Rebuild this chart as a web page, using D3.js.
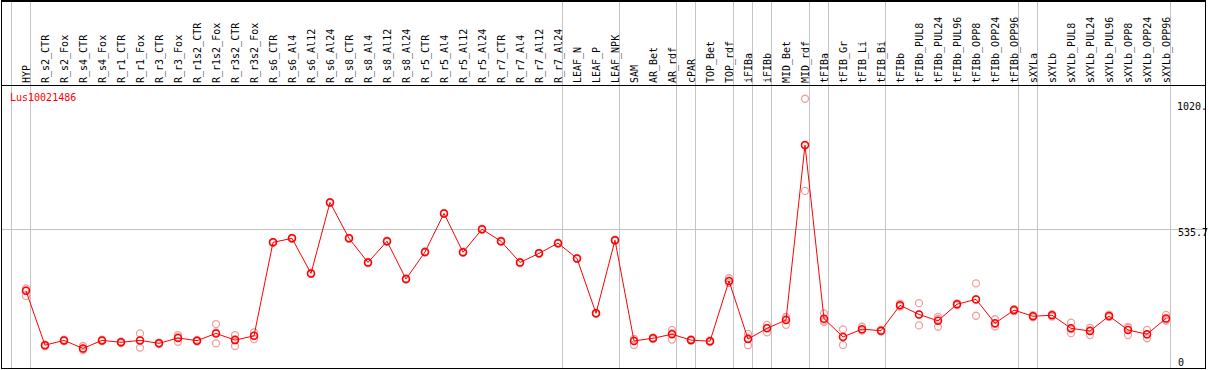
<!DOCTYPE html>
<html>
<head>
<meta charset="utf-8">
<script src="https://cdn.jsdelivr.net/npm/d3@7"></script>
<style>
  html, body { margin: 0; padding: 0; background: #fff; }
  svg { display: block; }
  text { font-family: "DejaVu Sans Mono", monospace; font-size: 10px; }
</style>
</head>
<body>
<div class="chart"></div>
<script>
// sample names, left to right
const categories = [
  'HYP', 'R_s2_CTR', 'R_s2_Fox', 'R_s4_CTR', 'R_s4_Fox', 'R_r1_CTR', 'R_r1_Fox',
  'R_r3_CTR', 'R_r3_Fox', 'R_r1s2_CTR', 'R_r1s2_Fox', 'R_r3s2_CTR', 'R_r3s2_Fox',
  'R_s6_CTR', 'R_s6_Al4', 'R_s6_Al12', 'R_s6_Al24', 'R_s8_CTR', 'R_s8_Al4',
  'R_s8_Al12', 'R_s8_Al24', 'R_r5_CTR', 'R_r5_Al4', 'R_r5_Al12', 'R_r5_Al24',
  'R_r7_CTR', 'R_r7_Al4', 'R_r7_Al12', 'R_r7_Al24', 'LEAF_N', 'LEAF_P', 'LEAF_NPK',
  'SAM', 'AR_Bet', 'AR_rdf', 'cPAR', 'TOP_Bet', 'TOP_rdf', 'iFIBa', 'iFIBb',
  'MID_Bet', 'MID_rdf', 'tFIBa', 'tFIB_Gr', 'tFIB_Li', 'tFIB_Bi', 'tFIBb',
  'tFIBb_PUL8', 'tFIBb_PUL24', 'tFIBb_PUL96', 'tFIBb_OPP8', 'tFIBb_OPP24', 'tFIBb_OPP96',
  'sXYLa', 'sXYLb', 'sXYLb_PUL8', 'sXYLb_PUL24', 'sXYLb_PUL96', 'sXYLb_OPP8',
  'sXYLb_OPP24', 'sXYLb_OPP96'
]

// mean expression per sample
const means = [
  303, 100, 118, 88, 118, 111, 118,
  107, 127, 117, 144, 119, 135,
  484, 499, 368, 633, 499, 409,
  488, 347, 448, 592, 447, 533,
  488, 409, 443, 481, 424, 219, 492,
  116, 126, 141, 119, 115, 340, 123, 163,
  194, 847, 199, 131, 160, 154, 249,
  215, 191, 253, 271, 182, 231,
  208, 212, 163, 153, 209, 157,
  141, 200
]

// replicate values per sample
const replicates = [
  [312, 284, 305], [102, 96, 100], [121, 115, 118], [97, 82, 87], [121, 115, 118], [114, 108, 111], [144, 91, 119],
  [110, 104, 107], [138, 113, 130], [120, 114, 117], [179, 107, 148], [138, 97, 123], [148, 123, 135],
  [486, 482, 484], [501, 497, 499], [370, 366, 368], [635, 631, 633], [501, 497, 499], [411, 407, 409],
  [490, 486, 488], [349, 345, 347], [450, 446, 448], [594, 590, 592], [449, 445, 447], [535, 531, 533],
  [490, 486, 488], [411, 407, 409], [445, 441, 443], [483, 479, 481], [426, 422, 424], [221, 217, 219], [494, 490, 492],
  [101, 118, 124], [129, 123, 126], [157, 121, 145], [122, 117, 119], [118, 112, 115], [350, 332, 338], [142, 100, 127], [176, 148, 165],
  [206, 176, 200], [1020, 676, 845], [219, 192, 186], [159, 101, 132], [169, 155, 157], [157, 151, 154], [255, 244, 248],
  [257, 174, 214], [206, 169, 198], [256, 249, 253], [331, 210, 272], [197, 170, 179], [235, 227, 231],
  [212, 204, 208], [216, 207, 212], [184, 145, 160], [165, 138, 156], [214, 205, 208], [165, 138, 168],
  [157, 126, 140], [213, 192, 195]
]

// a grey rule is drawn after each of these samples (plus one before the first)
const groupEnds = ['HYP', 'R_r7_Al24', 'LEAF_NPK', 'AR_rdf', 'cPAR', 'TOP_rdf', 'iFIBa', 'iFIBb',
  'MID_rdf', 'tFIBa', 'tFIB_Bi', 'tFIBb_OPP96', 'sXYLa', 'sXYLb_OPP96']

const geneName = 'Lus10021486'
const yMaxLabel = '1020.'
const yMidLabel = '535.7'
const yMax = 1071.4
const yMid = 535.7

const width = 1209
const height = 370

const svg = d3.select('.chart')
    .append('svg')
    .attr('width', width)
    .attr('height', height)

const x = d3.scalePoint()
    .domain(categories)
    .range([26, 1166])

const step = x.step()

// plot spans from the header rule down past the bottom frame
const y = d3.scaleLinear()
    .domain([0, yMax])
    .range([372, 85])

// grey group separators
const sepX = [x(categories[0]) - step + 4.5].concat(groupEnds.map(c => x(c) + 4.5))
svg.append('g')
    .selectAll('line')
    .data(sepX)
    .join('line')
    .attr('x1', d => d).attr('x2', d => d)
    .attr('y1', 0).attr('y2', 369)
    .attr('stroke', '#c4c4c4')
    .attr('stroke-width', 1)

// mid grid line
svg.append('line')
    .attr('x1', 1).attr('x2', 1206)
    .attr('y1', Math.round(y(yMid)) + 0.5).attr('y2', Math.round(y(yMid)) + 0.5)
    .attr('stroke', '#c4c4c4')

// frame
svg.append('rect')
    .attr('x', 1.5).attr('y', 0.5)
    .attr('width', 1204).attr('height', 368)
    .attr('fill', 'none')
    .attr('stroke', '#000')
    .attr('stroke-width', 1)
svg.append('line')
    .attr('x1', 1).attr('x2', 1206)
    .attr('y1', 1).attr('y2', 1)
    .attr('stroke', '#000').attr('stroke-width', 2)
svg.append('line')
    .attr('x1', 1).attr('x2', 1206)
    .attr('y1', 85.5).attr('y2', 85.5)
    .attr('stroke', '#000')

// rotated sample labels
svg.append('g')
    .selectAll('text')
    .data(categories)
    .join('text')
    .attr('transform', d => `translate(${x(d) + 3.5},83) rotate(-90)`)
    .attr('fill', '#000')
    .text(d => d)

// gene name
svg.append('text')
    .attr('x', 10).attr('y', 101)
    .attr('fill', '#ff0000')
    .text(geneName)

// value labels on the right
svg.append('text').attr('x', 1177).attr('y', 110).text(yMaxLabel)
svg.append('text').attr('x', 1178).attr('y', 236).text(yMidLabel)
svg.append('text').attr('x', 1178).attr('y', 366).text('0')

// replicates
const repPts = []
replicates.forEach((r, i) => r.forEach(v => repPts.push({ c: categories[i], v: v })))
svg.append('g')
    .selectAll('circle')
    .data(repPts)
    .join('circle')
    .attr('cx', d => x(d.c))
    .attr('cy', d => y(d.v))
    .attr('r', 3.5)
    .attr('fill', 'none')
    .attr('stroke', '#f0a0a0')
    .attr('stroke-width', 1.3)

// mean line
const line = d3.line()
    .x((d, i) => x(categories[i]))
    .y(d => y(d))
svg.append('path')
    .datum(means)
    .attr('d', line)
    .attr('fill', 'none')
    .attr('stroke', '#ff0000')
    .attr('stroke-width', 1)

// mean markers
svg.append('g')
    .selectAll('circle')
    .data(means)
    .join('circle')
    .attr('cx', (d, i) => x(categories[i]))
    .attr('cy', d => y(d))
    .attr('r', 3.5)
    .attr('fill', 'none')
    .attr('stroke', '#ff0000')
    .attr('stroke-width', 1.5)
</script>
</body>
</html>
